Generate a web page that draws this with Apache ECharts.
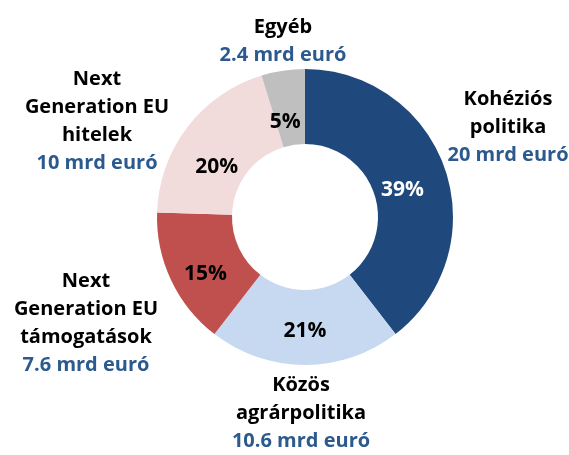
<!DOCTYPE html>
<html>
<head>
<meta charset="utf-8">
<script src="https://cdn.jsdelivr.net/npm/echarts@6/dist/echarts.min.js"></script>
<style>
  html, body { margin: 0; padding: 0; background: #fff; }
  #chart { width: 569px; height: 455px; }
</style>
</head>
<body>
<div id="chart"></div>
<script>
// adatok
var names = ['Kohéziós\npolitika', 'Közös\nagrárpolitika', 'Next\nGeneration EU\ntámogatások', 'Next\nGeneration EU\nhitelek', 'Egyéb'];
var values = [20, 10.6, 7.6, 10, 2.4];
var valueLabels = ['20 mrd euró', '10.6 mrd euró', '7.6 mrd euró', '10 mrd euró', '2.4 mrd euró'];
var shares = ['39%', '21%', '15%', '20%', '5%'];

var colors = ['#1F497D', '#C6D9F1', '#C0504D', '#F2DCDB', '#BFBFBF'];
var shareColors = ['#ffffff', '#000000', '#000000', '#000000', '#000000'];
// külső feliratok középpontja
var labelPos = [[508, 127], [301, 413], [86, 323], [97, 121], [283, 41]];
// belső százalékok eltolása
var shareOffset = [[-10, 10], [0, 1], [3, 9], [2, 19], [-3, 17]];

var chart = echarts.init(document.getElementById('chart'));

var innerData = values.map(function (v, i) {
    return {
        value: v,
        name: names[i],
        itemStyle: { color: colors[i] },
        label: { color: shareColors[i] }
    };
});
var outerData = values.map(function (v, i) {
    return { value: v, name: names[i] };
});

var option = {
    animation: false,
    textStyle: { fontFamily: 'Open Sans' },
    series: [{
        type: 'pie',
        center: [305, 217],
        radius: [73, 148],
        startAngle: 90,
        clockwise: true,
        silent: true,
        label: {
            position: 'inside',
            fontFamily: 'Open Sans',
            fontWeight: 'bold',
            fontSize: 21,
            formatter: function (p) { return shares[p.dataIndex]; }
        },
        labelLine: { show: false },
        labelLayout: function (p) {
            var o = shareOffset[p.dataIndex];
            return { dx: o[0], dy: o[1] };
        },
        data: innerData
    }, {
        type: 'pie',
        center: [305, 217],
        radius: [73, 148],
        startAngle: 90,
        clockwise: true,
        silent: true,
        itemStyle: { color: 'rgba(0,0,0,0)' },
        label: {
            position: 'outside',
            overflow: 'none',
            width: 200,
            fontFamily: 'Open Sans',
            fontWeight: 'bold',
            fontSize: 20,
            lineHeight: 28,
            align: 'center',
            formatter: function (p) {
                return '{n|' + names[p.dataIndex] + '}\n{v|' + valueLabels[p.dataIndex] + '}';
            },
            rich: {
                n: { color: '#000000', fontWeight: 'bold', fontSize: 20, lineHeight: 28, align: 'center', fontFamily: 'Open Sans' },
                v: { color: '#2C5A8E', fontWeight: 'bold', fontSize: 20, lineHeight: 28, align: 'center', fontFamily: 'Open Sans' }
            }
        },
        labelLine: { show: false },
        labelLayout: function (p) {
            var pos = labelPos[p.dataIndex];
            return {
                x: pos[0],
                y: pos[1],
                align: 'center',
                verticalAlign: 'middle'
            };
        },
        data: outerData
    }]
};
chart.setOption(option);
</script>
</body>
</html>
